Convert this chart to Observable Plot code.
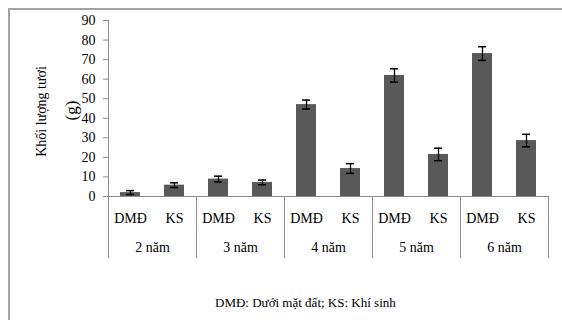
<!DOCTYPE html>
<html>
<head>
<meta charset="utf-8">
<script src="https://cdn.jsdelivr.net/npm/d3@7"></script>
<script src="https://cdn.jsdelivr.net/npm/@observablehq/plot@0.6"></script>
<style>
  html, body { margin: 0; padding: 0; background: #fff; }
  #wrap { position: relative; width: 562px; height: 320px; overflow: hidden; font-family: "Liberation Serif", "Times New Roman", serif; }
  #border { position: absolute; left: 8px; top: 8px; width: 700px; height: 500px; border-left: 2px solid #a3a3a3; border-top: 2px solid #a3a3a3; }
  #main { position: absolute; left: 0; top: 0; }
  #table { position: absolute; left: 0; top: 196px; }
  #caption { position: absolute; left: 215px; top: 295px; font-size: 13px; color: #000; white-space: nowrap; }
  svg { overflow: visible; }
</style>
</head>
<body>
<div id="wrap">
  <div id="border"></div>
  <div id="main"></div>
  <div id="table"></div>
  <div id="caption"></div>
</div>
<script>
// ---- data ----
const years = ["2 năm", "3 năm", "4 năm", "5 năm", "6 năm"];
const parts = ["DMĐ", "KS"];
const dmdValues = [2.0, 8.9, 47.0, 61.9, 73.1];
const dmdErrors = [1.0, 1.5, 2.3, 3.4, 3.5];
const ksValues = [5.8, 7.2, 14.3, 21.5, 28.6];
const ksErrors = [1.2, 1.2, 2.5, 3.2, 3.2];
const yTicks = [0, 10, 20, 30, 40, 50, 60, 70, 80, 90];
const yLabel = "Khối lượng tươi";
const yUnit = "(g)";
const captionText = "DMĐ: Dưới mặt đất; KS: Khí sinh";

// ---- derived table ----
const rows = [];
years.forEach((yr, g) => {
  rows.push({year: yr, part: parts[0], value: dmdValues[g], err: dmdErrors[g], idx: g * 2});
  rows.push({year: yr, part: parts[1], value: ksValues[g], err: ksErrors[g], idx: g * 2 + 1});
});
rows.forEach(d => d.key = d.year + "|" + d.part);
const n = rows.length;

const W = 562, mL = 108, mR = 14;
const font = "'Liberation Serif', 'Times New Roman', serif";
const grey = "#8e8e8e";
const barColor = "#595959";

const main = Plot.plot({
  width: W, height: 212,
  marginLeft: mL, marginRight: mR, marginTop: 20, marginBottom: 16,
  style: {fontFamily: font, fontSize: "14px", color: "#000", background: "transparent", overflow: "visible"},
  x: {type: "band", domain: rows.map(d => d.key), paddingInner: 0.55, paddingOuter: 0.275, axis: null},
  y: {domain: [0, 90]},
  marks: [
    Plot.axisY({ticks: yTicks, tickSize: 5, tickPadding: 8, stroke: grey, fill: "#000", fontSize: 14, label: null}),
    Plot.frame({anchor: "left", stroke: grey}),
    Plot.frame({anchor: "bottom", stroke: grey}),
    Plot.barY(rows, {x: "key", y: "value", fill: barColor}),
    Plot.ruleX(rows, {x: "key", y1: d => d.value - d.err, y2: d => d.value + d.err, stroke: "#000", strokeWidth: 1.3}),
    Plot.tickY(rows, {x: "key", y: d => d.value + d.err, stroke: "#000", strokeWidth: 1.5, insetLeft: 6, insetRight: 6}),
    Plot.tickY(rows, {x: "key", y: d => d.value - d.err, stroke: "#000", strokeWidth: 1.5, insetLeft: 6, insetRight: 6}),
    Plot.text([yLabel], {text: d => d, frameAnchor: "left", textAnchor: "middle", rotate: -90, dx: -67, dy: 3, fontSize: 14}),
    Plot.text([yUnit], {text: d => d, frameAnchor: "left", textAnchor: "middle", rotate: -90, dx: -37, dy: 2, fontSize: 17})
  ]
});
document.getElementById("main").appendChild(main);

// ---- category table below the axis ----
const groupBounds = d3.range(0, n + 1, parts.length);
const subBounds = d3.range(1, n, parts.length);
const table = Plot.plot({
  width: W, height: 64,
  marginLeft: mL, marginRight: mR, marginTop: 0, marginBottom: 2,
  style: {fontFamily: font, fontSize: "14px", color: "#000", background: "transparent"},
  x: {domain: [0, n], axis: null},
  y: {type: "band", domain: ["part", "year"], padding: 0, axis: null},
  marks: [
    Plot.ruleX(groupBounds, {x: d => d, stroke: grey}),
    Plot.ruleX(subBounds, {x: d => d, y: () => "part", stroke: grey}),
    Plot.text(rows, {x: d => d.idx + 0.5, y: () => "part", text: "part", dy: 7, fontSize: 14}),
    Plot.text(years, {x: (d, i) => i * parts.length + parts.length / 2, y: () => "year", text: d => d, dy: 5, fontSize: 14})
  ]
});
document.getElementById("table").appendChild(table);

document.getElementById("caption").textContent = captionText;
</script>
</body>
</html>
